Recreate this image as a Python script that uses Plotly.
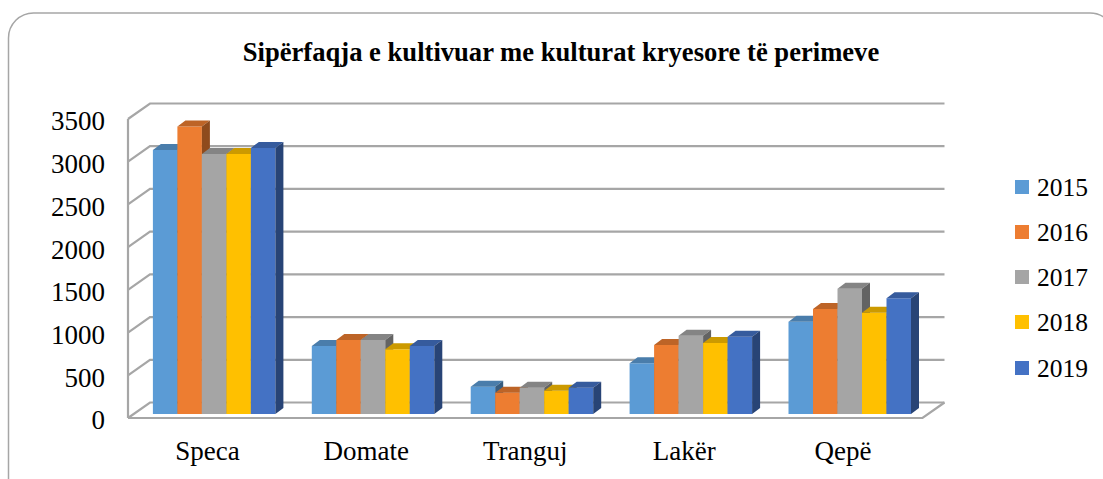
import plotly.graph_objects as go

W, H = 1103, 479
FONT = "Liberation Serif"
categories = ["Speca", "Domate", "Tranguj", "Lakër", "Qepë"]
years = ["2015", "2016", "2017", "2018", "2019"]
v2015 = [3090, 796, 320, 593, 1081]
v2016 = [3365, 866, 250, 808, 1230]
v2017 = [3044, 866, 308, 917, 1467]
v2018 = [3044, 757, 273, 831, 1186]
v2019 = [3115, 796, 308, 905, 1355]
series = [v2015, v2016, v2017, v2018, v2019]
front = ["#5b9bd5", "#ed7d31", "#a5a5a5", "#ffc000", "#4472c4"]
top = ["#4a7dab", "#bd6427", "#848484", "#cc9a00", "#365b9d"]
side = ["#375d80", "#8e4b1d", "#636363", "#997300", "#284476"]
ticks = [0, 500, 1000, 1500, 2000, 2500, 3000, 3500]

PXX, PXY = 158.9, 299 / 3500        # px per category, px per value
DX_WALL, DY_WALL = 22 / PXX, 15.5 / PXY
DX_BAR, DY_BAR = 8 / PXX, 6 / PXY
BASE = 4 / PXY
SHIFT = 6.7 / PXX
BAR_W = 24.5 / PXX
PAD = 4                              # px of room round the walls so their lines are not clipped
GRID = "#a6a6a6"
XR = [-0.5 - PAD / PXX, 4.5 + DX_WALL + PAD / PXX]
YR = [-PAD / PXY, 3500 + DY_WALL + PAD / PXY]
x_left = 128 - PAD
y_bottom = 418 + PAD
dom_x = [x_left / W, (x_left + (XR[1] - XR[0]) * PXX) / W]
dom_y = [1 - y_bottom / H, 1 - (y_bottom - (YR[1] - YR[0]) * PXY) / H]

fig = go.Figure()

# walls and floor
wx, wy = [], []
for t in ticks:
    wx += [-0.5, -0.5 + DX_WALL, 4.5 + DX_WALL, None]
    wy += [t, t + DY_WALL, t + DY_WALL, None]
wx += [-0.5, -0.5, None, -0.5, 4.5, 4.5 + DX_WALL]
wy += [0, 3500, None, 0, 0, DY_WALL]
fig.add_trace(go.Scatter(x=wx, y=wy, mode="lines", line=dict(color=GRID, width=2.2),
                         cliponaxis=False, showlegend=False, hoverinfo="skip",
                         xaxis="x", yaxis="y"))

for i, (yr, vals) in enumerate(zip(years, series)):
    ax, ay = f"x{i + 2}", f"y{i + 2}"
    xs = [k + SHIFT + (i - 2) * BAR_W for k in range(len(categories))]
    fig.add_trace(go.Bar(x=xs, y=vals, base=BASE, width=BAR_W, name=yr, marker_color=front[i],
                         marker_line_width=0, showlegend=False, xaxis=ax, yaxis=ay))
    tx, ty, sx, sy = [], [], [], []
    for x, v in zip(xs, vals):
        l, r, b, t = x - BAR_W / 2, x + BAR_W / 2, BASE, BASE + v
        tx += [l, l + DX_BAR, r + DX_BAR, r, l, None]
        ty += [t, t + DY_BAR, t + DY_BAR, t, t, None]
        sx += [r, r + DX_BAR, r + DX_BAR, r, r, None]
        sy += [b, b + DY_BAR, t + DY_BAR, t, b, None]
    for px_, py_, c in ((tx, ty, top[i]), (sx, sy, side[i])):
        fig.add_trace(go.Scatter(x=px_, y=py_, mode="lines", fill="toself", fillcolor=c,
                                 line=dict(width=0, color=c), showlegend=False, hoverinfo="skip",
                                 cliponaxis=False, xaxis=ax, yaxis=ay))

axis_base = dict(domain=dom_x, range=XR, showgrid=False, zeroline=False, showline=False, automargin=False)
yaxis_base = dict(domain=dom_y, range=YR, showgrid=False, zeroline=False, showline=False, automargin=False)
layout = dict(
    xaxis=dict(axis_base, tickmode="array", tickvals=list(range(5)), ticktext=categories,
               ticks="", ticklabelstandoff=10, tickfont=dict(family=FONT, size=27, color="#000")),
    yaxis=dict(yaxis_base, tickmode="array", tickvals=ticks, ticks="", ticklabelstandoff=18,
               ticklabelshift=2, tickfont=dict(family=FONT, size=27, color="#000")),
)
for i in range(2, 7):
    layout[f"xaxis{i}"] = dict(axis_base, overlaying="x", visible=False, anchor=f"y{i}")
    layout[f"yaxis{i}"] = dict(yaxis_base, overlaying="y", visible=False, anchor=f"x{i}")

px = lambda v: v / W
py = lambda v: 1 - v / H
r = 25
L, T, R, B = 8.5, 13, 1115, 505
k = r * 0.45
pts = (f"M {px(L + r)} {py(T)} L {px(R - r)} {py(T)} "
       f"C {px(R - k)} {py(T)} {px(R)} {py(T + k)} {px(R)} {py(T + r)} "
       f"L {px(R)} {py(B)} L {px(L)} {py(B)} L {px(L)} {py(T + r)} "
       f"C {px(L)} {py(T + k)} {px(L + k)} {py(T)} {px(L + r)} {py(T)} Z")

shapes = [dict(type="path", path=pts, xref="paper", yref="paper",
               line=dict(color="#a6a6a6", width=1.5), layer="below")]
annotations = []
LEG_Y = [187, 232, 277, 322, 368]
for yr, c, ly in zip(years, front, LEG_Y):
    shapes.append(dict(type="rect", xref="paper", yref="paper", x0=px(1015), x1=px(1029),
                       y0=py(ly + 7), y1=py(ly - 7), fillcolor=c, line_width=0))
    annotations.append(dict(text=yr, xref="paper", yref="paper", x=px(1036), y=py(ly),
                            xanchor="left", yanchor="middle", showarrow=False, borderpad=0,
                            font=dict(family=FONT, size=25.5, color="#000")))

fig.update_layout(
    width=W, height=H, autosize=False, barmode="overlay", showlegend=False,
    margin=dict(l=0, r=0, t=0, b=0, autoexpand=False, pad=0),
    paper_bgcolor="white", plot_bgcolor="rgba(0,0,0,0)",
    title=dict(text="<b>Sipërfaqja e kultivuar me kulturat kryesore të perimeve</b>",
               x=561 / W, xanchor="center", y=1 - 52 / H, yanchor="middle",
               font=dict(family=FONT, size=26.6, color="#000")),
    shapes=shapes, annotations=annotations,
    **layout,
)
fig.write_html("out.html", config=dict(displayModeBar=False),
               post_script="document.body.style.margin='0';document.body.style.overflow='hidden';")
